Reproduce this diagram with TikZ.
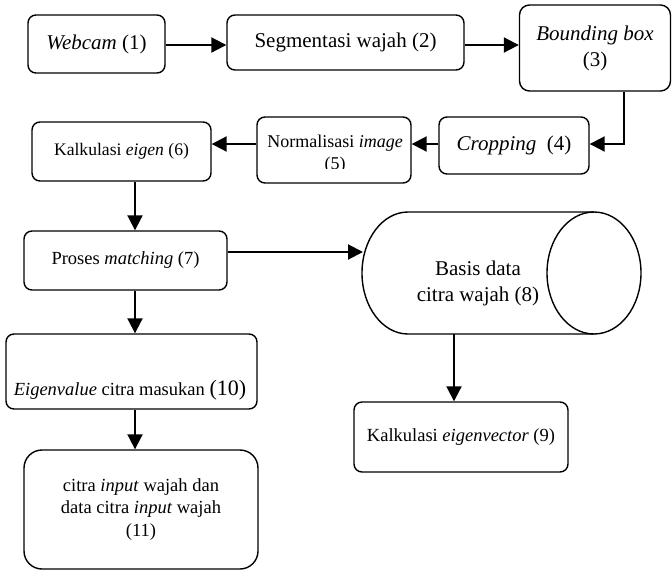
\documentclass[tikz,border=0pt]{standalone}
\usepackage{fontspec}
\setmainfont{Liberation Serif}
\usetikzlibrary{arrows.meta}
\begin{document}
\begin{tikzpicture}[x=1pt,y=-1pt,
  box/.style={draw,line width=1.4pt,rounded corners=8pt,inner sep=0pt,align=center},
  txt/.style={inner sep=0pt,align=center},
  arr/.style={line width=2pt,-{Triangle[length=15pt,width=15pt]}},
  big/.style={font=\fontsize{21}{26}\selectfont},
  mid/.style={font=\fontsize{18.5}{22.5}\selectfont}]
\useasboundingbox (0,0) rectangle (672,571);
% top row
\node[box,big,minimum width=137,minimum height=58] (n1) at (96.5,44) {\textit{Webcam} (1)};
\node[box,big,minimum width=237,minimum height=55] (n2) at (345.5,42.5) {Segmentasi wajah (2)};
\node[box,big,minimum width=151,minimum height=86,rounded corners=10pt] (n3) at (595,48) {\textit{Bounding box}\\(3)};
% second row
\node[box,big,minimum width=150,minimum height=57] (n4) at (514,145.5) {\textit{Cropping}\ \ (4)};
\node[box,minimum width=154,minimum height=66] (n5) at (334,150) {};
\begin{scope}
\clip (257,117) rectangle (411,168);
\node[txt,font=\fontsize{18}{22}\selectfont] (t5) at (335,154) {Normalisasi \textit{image}\\(5)};
\end{scope}
\node[box,font=\fontsize{17.6}{21}\selectfont,minimum width=179,minimum height=59] (n6) at (121.5,151.5) {Kalkulasi \textit{eigen} (6)};
% third row
\node[box,mid,minimum width=203,minimum height=59] (n7) at (125.5,260.5) {Proses \textit{matching} (7)};
% cylinder
\node[minimum width=279,minimum height=122,inner sep=0pt] (db) at (501.5,273) {};
\draw[line width=1.4pt] (594,212) -- (408,212) arc[start angle=90,end angle=270,x radius=46pt,y radius=61pt] -- (594,334);
\draw[line width=1.4pt] (594,273) ellipse [x radius=47pt,y radius=61pt];
\node[txt,big,text depth=0pt] (t8) at (478,281) {Basis data\\citra wajah (8)};
% lower
\node[box,minimum width=251,minimum height=75] (n10) at (131.5,371.5) {};
\node[txt,font=\fontsize{18.5}{22}\selectfont] (t10) at (130,390) {\textit{Eigenvalue} citra masukan \fontsize{22}{24}\selectfont(10)};
\node[box,mid,minimum width=234,minimum height=119,rounded corners=18pt] (n11) at (141,509.5) {citra \textit{input} wajah dan\\data citra \textit{input} wajah\\(11)};
\node[box,mid,minimum width=214,minimum height=70] (n9) at (461,437) {Kalkulasi \textit{eigenvector} (9)};
% coordinates
\coordinate (c3) at (624,144);
\coordinate (col) at (135,0);
\coordinate (dbin) at (363,252);
\coordinate (dbout) at (454,334);
% connectors
\draw[arr] (n1.east |- 0,45) -- (n2.west |- 0,45);
\draw[arr] (n2.east |- 0,45) -- (n3.west |- 0,45);
\draw[arr] (n3.south -| c3) -- (c3) -- (n4.east |- c3);
\draw[arr] (n4.west |- c3) -- (n5.east |- c3);
\draw[arr] (n5.west |- c3) -- (n6.east |- c3);
\draw[arr] (n6.south -| col) -- (n7.north -| col);
\draw[arr] (n7.east |- dbin) -- (dbin);
\draw[arr] (n7.south -| col) -- (n10.north -| col);
\draw[arr] (n10.south -| col) -- (n11.north -| col);
\draw[arr] (dbout) -- (dbout |- n9.north);
\end{tikzpicture}
\end{document}
